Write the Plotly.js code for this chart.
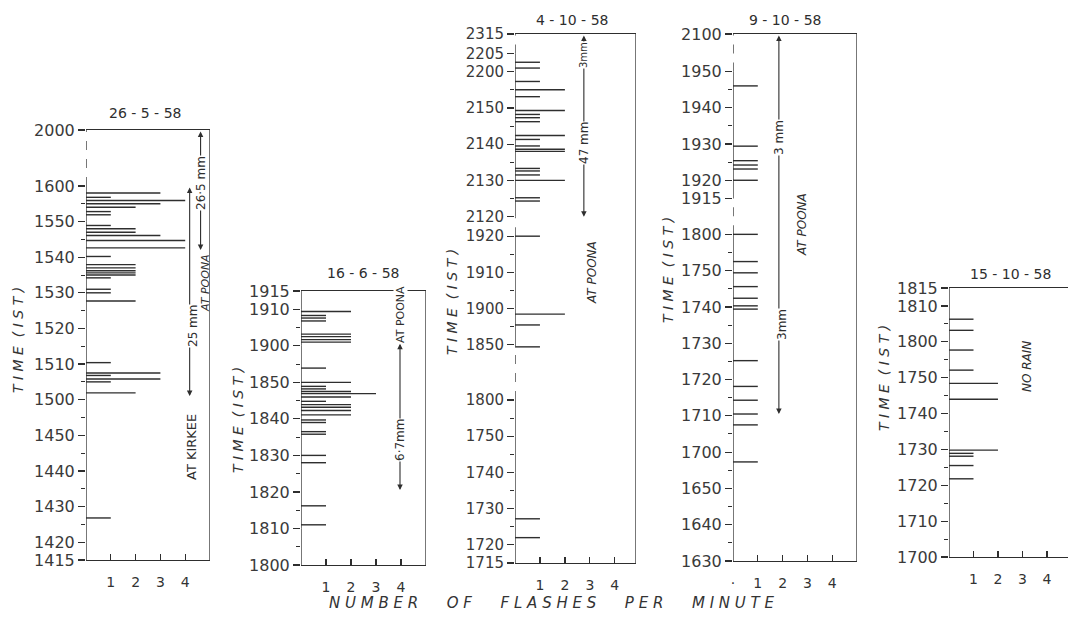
<!DOCTYPE html>
<html><head><meta charset="utf-8">
<script src="https://cdn.plot.ly/plotly-3.0.1.min.js"></script>
<style>html,body{margin:0;padding:0;background:#fff;}#chart{width:1068px;height:621px;}</style>
</head><body><div id="chart"></div>
<script>
// ---------------- DATA ----------------
const dates = ['26 - 5 - 58', '16 - 6 - 58', '4 - 10 - 58', '9 - 10 - 58', '15 - 10 - 58'];

// y-axis tick labels (time, IST, hhmm), bottom to top
const ticks1 = ['1415','1420','1430','1440','1450','1500','1510','1520','1530','1540','1550','1600','2000'];
const ticks2 = ['1800','1810','1820','1830','1840','1850','1900','1910','1915'];
const ticks3 = ['1715','1720','1730','1740','1750','1800','1850','1900','1910','1920','2120','2130','2140','2150','2200','2205','2315'];
const ticks4 = ['1630','1640','1650','1700','1710','1720','1730','1740','1750','1800','1915','1920','1930','1940','1950','2100'];
const ticks5 = ['1700','1710','1720','1730','1740','1750','1800','1810','1815'];

// flash times (hhmm with decimal minutes) and flashes per minute
const times1 = [1558, 1556.8, 1555.9, 1555, 1554, 1552.8, 1551.9, 1548.9, 1548, 1547, 1546.1, 1544.7, 1542.6, 1540.2, 1537.9, 1537, 1536.2, 1535.6, 1535, 1534.2, 1531, 1530, 1527.7, 1510.4, 1507.5, 1506.8, 1505.8, 1505, 1501.9, 1426.8];
const flashes1 = [3, 1, 4, 3, 2, 1, 1, 1, 2, 2, 3, 4, 4, 1, 2, 2, 2, 2, 2, 1, 1, 1, 2, 1, 3, 1, 3, 1, 2, 1];

const times2 = [1909.4, 1908.3, 1907.6, 1906.8, 1903.2, 1902.5, 1901.7, 1901, 1853.9, 1850, 1848.9, 1848.2, 1847.5, 1846.9, 1846, 1844.8, 1843.9, 1843.2, 1842.3, 1841.1, 1839.7, 1839, 1836.5, 1835.8, 1830, 1828, 1816.2, 1811];
const flashes2 = [2, 1, 1, 1, 2, 2, 2, 2, 1, 2, 1, 1, 2, 3, 2, 1, 2, 2, 2, 2, 1, 1, 1, 1, 1, 1, 1, 1];

const times3 = [2202.6, 2201, 2157.3, 2155, 2153.1, 2149.3, 2148.2, 2147.3, 2146.2, 2142.4, 2141.3, 2139.5, 2138.6, 2138, 2133.3, 2132.6, 2131.5, 2130, 2125.2, 2124.3, 1920, 1858.5, 1855.5, 1848.2, 1727.2, 1722];
const flashes3 = [1, 1, 1, 2, 1, 2, 1, 1, 1, 2, 1, 1, 2, 2, 1, 1, 1, 2, 1, 1, 1, 2, 1, 1, 1, 1];

const times4 = [1946, 1929.4, 1925.4, 1924.2, 1923.1, 1920, 1800, 1752.5, 1749.4, 1745.6, 1742.4, 1740.3, 1739.4, 1725.2, 1718.1, 1714.3, 1710.5, 1707.5, 1657.3];
const flashes4 = [1, 1, 1, 1, 1, 1, 1, 1, 1, 1, 1, 1, 1, 1, 1, 1, 1, 1, 1];

const times5 = [1806.3, 1803.2, 1757.7, 1752.1, 1748.4, 1744, 1729.8, 1728.9, 1728.1, 1725.5, 1721.8];
const flashes5 = [1, 1, 1, 1, 2, 2, 2, 1, 1, 1, 1];

// rain periods shown by arrows (panel index, start, end in hhmm)
const rainPanel = [0, 0, 1, 2, 3];
const rainFrom  = [2000, 1600, 1901, 2315, 2100];
const rainTo    = [1542, 1501, 1820.5, 2119, 1710.5];

const xTickVals = [1, 2, 3, 4];
const xTickText = ['1', '2', '3', '4'];

// ---------------- LAYOUT CONFIG ----------------
const W = 1068, H = 621;
const INK = '#2e2e2e';
const FONT = 'DejaVu Sans';
const cfg = [
  {x0:86,  x1:210,  yTop:130, yBot:560, xmax:5,    gaps:{'1600-2000':15.7}, rightBorder:true,  dateX:145,  dateY:113, titleX:18,  titleY:340, rainX:[4.62, 4.18]},
  {x0:301, x1:426,  yTop:291, yBot:565, xmax:5,    gaps:{}, rightBorder:true,  dateX:363,  dateY:273, titleX:238, titleY:420, rainX:[3.96]},
  {x0:515, x1:636,  yTop:34,  yBot:563, xmax:4.85, gaps:{'1800-1850':15.2,'1920-2120':5.4,'2205-2315':5.4}, rightBorder:true, dateX:572, dateY:20, titleX:452, titleY:302, rainX:[2.76], tickSize:15},
  {x0:733, x1:857,  yTop:34,  yBot:561, xmax:5,    gaps:{'1800-1915':9.9,'1950-2100':10.3}, rightBorder:true, dateX:785, dateY:20, titleX:668, titleY:270, rainX:[1.85], zeroLabel:'·'},
  {x0:949, x1:1068, yTop:288, yBot:557, xmax:4.86, gaps:{}, rightBorder:false, dateX:1010, dateY:274, titleX:884, titleY:378, rainX:[]}
];
const allTicks = [ticks1, ticks2, ticks3, ticks4, ticks5];
const allTimes = [times1, times2, times3, times4, times5];
const allFlashes = [flashes1, flashes2, flashes3, flashes4, flashes5];

// ---------------- SCALE HELPERS ----------------
function toMin(t) { const h = Math.floor(t / 100); return h * 60 + (t - h * 100); }
function buildScale(ticks, gaps) {
  const mins = ticks.map(s => toMin(parseFloat(s)));
  const pos = [0];
  const brk = [];
  for (let i = 1; i < mins.length; i++) {
    const key = ticks[i - 1] + '-' + ticks[i];
    const isBreak = gaps[key] !== undefined;
    brk.push(isBreak);
    pos.push(pos[i - 1] + (isBreak ? gaps[key] : (mins[i] - mins[i - 1])));
  }
  return {mins, pos, brk};
}
function posOf(sc, t) {
  const m = toMin(t);
  const {mins, pos} = sc;
  if (m <= mins[0]) return pos[0];
  for (let i = 1; i < mins.length; i++) {
    if (m <= mins[i]) {
      const f = (m - mins[i - 1]) / (mins[i] - mins[i - 1]);
      return pos[i - 1] + f * (pos[i] - pos[i - 1]);
    }
  }
  return pos[pos.length - 1];
}
const px = v => v / W;
const py = v => 1 - v / H;

// ---------------- BUILD ----------------
const traces = [];
const layout = {
  width: W, height: H,
  margin: {l: 0, r: 0, t: 0, b: 0},
  paper_bgcolor: '#ffffff', plot_bgcolor: 'rgba(0,0,0,0)',
  showlegend: false,
  font: {family: FONT, color: INK},
  shapes: [], annotations: []
};

const scales = [];
cfg.forEach((c, k) => {
  const sc = buildScale(allTicks[k], c.gaps);
  scales.push(sc);
  const n = k === 0 ? '' : String(k + 1);
  const xa = 'x' + n, ya = 'y' + n;
  const top = sc.pos[sc.pos.length - 1];

  // bars
  const bx = [], by = [];
  allTimes[k].forEach((t, i) => {
    const p = posOf(sc, t);
    bx.push(0, allFlashes[k][i], null);
    by.push(p, p, null);
  });
  traces.push({type: 'scatter', mode: 'lines', x: bx, y: by, xaxis: xa, yaxis: ya,
    line: {color: INK, width: 1.4}, hoverinfo: 'skip'});

  // minor ticks: midpoints of regular 10-minute segments
  const minor = [];
  for (let i = 1; i < sc.pos.length; i++) {
    if (!sc.brk[i - 1] && (sc.mins[i] - sc.mins[i - 1]) >= 10) minor.push((sc.pos[i] + sc.pos[i - 1]) / 2);
  }

  const tv = c.zeroLabel ? [0].concat(xTickVals) : xTickVals;
  const tt = c.zeroLabel ? [c.zeroLabel].concat(xTickText) : xTickText;

  layout['xaxis' + n] = {
    domain: [px(c.x0), px(c.x1)], anchor: ya, range: [0, c.xmax],
    showgrid: false, zeroline: false, showline: true, mirror: true,
    linecolor: INK, linewidth: 1.3,
    tickmode: 'array', tickvals: tv, ticktext: tt,
    ticks: 'inside', ticklen: 6, tickwidth: 1.2, tickcolor: INK,
    ticklabelstandoff: 9,
    tickfont: {family: FONT, size: 14, color: '#333'}
  };
  layout['yaxis' + n] = {
    domain: [py(c.yBot), py(c.yTop)], anchor: xa, range: [0, top],
    showgrid: false, zeroline: false, showline: false,
    tickmode: 'array', tickvals: sc.pos, ticktext: allTicks[k],
    ticks: 'outside', ticklen: 7, tickwidth: 1.2, tickcolor: INK,
    tickfont: {family: FONT, size: c.tickSize || 16, color: '#3a3a3a'},
    minor: {tickmode: 'array', tickvals: minor, ticks: 'outside', ticklen: 4, tickwidth: 1, tickcolor: INK, showgrid: false}
  };

  // left axis: solid for regular segments, dashed across breaks
  for (let i = 1; i < sc.pos.length; i++) {
    layout.shapes.push({type: 'line', xref: xa, yref: ya, x0: 0, x1: 0, y0: sc.pos[i - 1], y1: sc.pos[i],
      line: {color: INK, width: 1.3, dash: sc.brk[i - 1] ? 'dash' : 'solid'}});
  }
  if (c.rightBorder) {
    layout.shapes.push({type: 'line', xref: xa, yref: ya, x0: c.xmax, x1: c.xmax, y0: 0, y1: top,
      line: {color: INK, width: 1.3}});
  }

  // date title
  layout.annotations.push({xref: 'paper', yref: 'paper', x: px(c.dateX), y: py(c.dateY),
    text: dates[k], showarrow: false, xanchor: 'center', yanchor: 'middle',
    font: {family: FONT, size: 14, color: INK}});
  // y title
  layout.annotations.push({xref: 'paper', yref: 'paper', x: px(c.titleX), y: py(c.titleY),
    text: '<i>T I M E  ( I S T )</i>', showarrow: false, textangle: -90,
    xanchor: 'center', yanchor: 'middle', font: {family: FONT, size: 14, color: '#333'}});
});

// rain arrows
let rCount = [0, 0, 0, 0, 0];
rainPanel.forEach((k, i) => {
  const n = k === 0 ? '' : String(k + 1);
  const sc = scales[k];
  const xv = cfg[k].rainX[rCount[k]++];
  layout.annotations.push({xref: 'x' + n, yref: 'y' + n, axref: 'x' + n, ayref: 'y' + n,
    x: xv, y: posOf(sc, rainTo[i]), ax: xv, ay: posOf(sc, rainFrom[i]),
    text: '', showarrow: true, arrowhead: 2, arrowside: 'end+start', arrowsize: 1, arrowwidth: 1.1, arrowcolor: INK});
});

// rain labels (pixel positions)
const rainText = [
  ['26·5 mm', 201, 183, 12, true, false],
  ['AT POONA', 205, 283, 11, false, true],
  ['25 mm', 193, 326, 12, true, false],
  ['AT KIRKEE', 191, 447, 13, false, false],
  ['AT POONA', 400, 315, 11, true, false],
  ['6·7mm', 400, 440, 12, true, false],
  ['3mm', 584, 55, 10, true, false],
  ['47 mm', 584, 143, 12, true, false],
  ['AT POONA', 592, 273, 12, false, true],
  ['3 mm', 779, 138, 12, true, false],
  ['3mm', 782, 325, 12, true, false],
  ['AT POONA', 802, 225, 12, false, true],
  ['NO RAIN', 1027, 367, 12, false, true]
];
rainText.forEach(r => {
  layout.annotations.push({xref: 'paper', yref: 'paper', x: px(r[1]), y: py(r[2]),
    text: r[5] ? '<i>' + r[0] + '</i>' : r[0], showarrow: false, textangle: -90,
    xanchor: 'center', yanchor: 'middle', bgcolor: r[4] ? '#ffffff' : 'rgba(0,0,0,0)', borderpad: 0,
    font: {family: FONT, size: r[3], color: INK}});
});

// common x title
layout.annotations.push({xref: 'paper', yref: 'paper', x: px(552), y: py(603),
  text: '<i>N U M B E R      O F      F L A S H E S      P E R      M I N U T E</i>',
  showarrow: false, xanchor: 'center', yanchor: 'middle',
  font: {family: FONT, size: 15, color: '#333'}});

Plotly.newPlot('chart', traces, layout, {staticPlot: true, displayModeBar: false});
</script>
</body></html>
